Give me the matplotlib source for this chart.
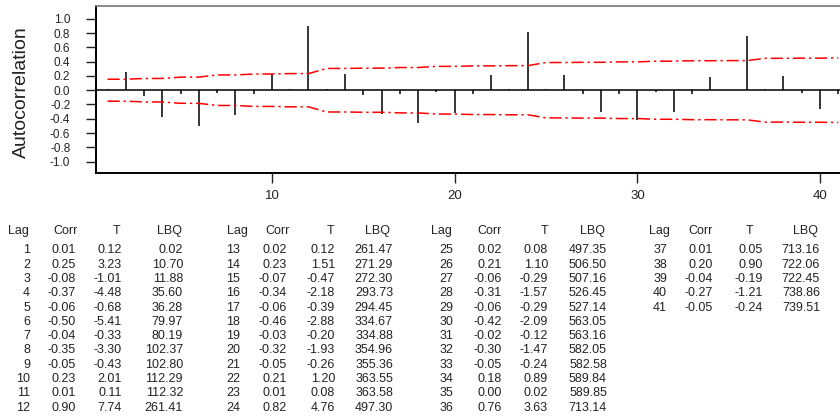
import numpy as np
import matplotlib
matplotlib.use('Agg')
import matplotlib.pyplot as plt

lags = list(range(1, 42))
corr = [0.01, 0.25, -0.08, -0.37, -0.06, -0.50, -0.04, -0.35, -0.05, 0.23, 0.01, 0.90,
        0.02, 0.23, -0.07, -0.34, -0.06, -0.46, -0.03, -0.32, -0.05, 0.21, 0.01, 0.82,
        0.02, 0.21, -0.06, -0.31, -0.06, -0.42, -0.02, -0.30, -0.05, 0.18, 0.00, 0.76,
        0.01, 0.20, -0.04, -0.27, -0.05]
tstat = [0.12, 3.23, -1.01, -4.48, -0.68, -5.41, -0.33, -3.30, -0.43, 2.01, 0.11, 7.74,
         0.12, 1.51, -0.47, -2.18, -0.39, -2.88, -0.20, -1.93, -0.26, 1.20, 0.08, 4.76,
         0.08, 1.10, -0.29, -1.57, -0.29, -2.09, -0.12, -1.47, -0.24, 0.89, 0.02, 3.63,
         0.05, 0.90, -0.19, -1.21, -0.24]
lbq = [0.02, 10.70, 11.88, 35.60, 36.28, 79.97, 80.19, 102.37, 102.80, 112.29, 112.32, 261.41,
       261.47, 271.29, 272.30, 293.73, 294.45, 334.67, 334.88, 354.96, 355.36, 363.55, 363.58, 497.30,
       497.35, 506.50, 507.16, 526.45, 527.14, 563.05, 563.16, 582.05, 582.58, 589.84, 589.85, 713.14,
       713.16, 722.06, 722.45, 738.86, 739.51]
# upper significance limit at each lag (lower limit is the negative)
limit = [0.154, 0.154, 0.164, 0.165, 0.183, 0.184, 0.214, 0.214, 0.227, 0.227, 0.233, 0.233,
         0.305, 0.305, 0.309, 0.309, 0.318, 0.318, 0.334, 0.334, 0.341, 0.341, 0.344, 0.344,
         0.388, 0.388, 0.391, 0.391, 0.397, 0.397, 0.407, 0.407, 0.413, 0.413, 0.415, 0.415,
         0.447, 0.447, 0.449, 0.449, 0.453]
ytick_vals = [-1.0, -0.8, -0.6, -0.4, -0.2, 0.0, 0.2, 0.4, 0.6, 0.8, 1.0]
xtick_vals = [10, 20, 30, 40]
headers = ['Lag', 'Corr', 'T', 'LBQ']

W, H = 840, 419
FONT = 'Liberation Sans'

fig = plt.figure(figsize=(W / 100, H / 100), dpi=100)
ax = fig.add_axes([96 / W, 1 - 173 / H, 754 / W, 167 / H])

ax.vlines(lags, 0, corr, color='black', lw=1.1)
ax.axhline(0, color='black', lw=1.1)
dash = (0, (8, 2.5, 1.5, 2.5))
ax.plot(lags, limit, color='red', lw=1.1, ls=dash)
ax.plot(lags, [-v for v in limit], color='red', lw=1.1, ls=dash)

ax.set_xlim(0.37, 41.64)
ax.set_ylim(-1.16, 1.18)
ax.set_yticks(ytick_vals)
ax.set_yticklabels([f'{v:.1f}' for v in ytick_vals], fontfamily=FONT, fontsize=8.5)
ax.set_xticks(xtick_vals)
ax.set_xticklabels([str(v) for v in xtick_vals], fontfamily=FONT, fontsize=9.5)
ax.tick_params(axis='y', direction='out', length=7.5, width=1, pad=11, colors='#222222')
ax.tick_params(axis='x', direction='out', length=7.5, width=1, pad=5, colors='#222222')

ax.set_ylabel('Autocorrelation', fontfamily=FONT, fontsize=14, color='#222222')
ax.yaxis.set_label_coords(-0.087, 0.485)

for s in ['left', 'bottom']:
    ax.spines[s].set_linewidth(1.4)
    ax.spines[s].set_color('black')
ax.spines['top'].set_linewidth(1.2)
ax.spines['top'].set_color('#777777')
ax.spines['right'].set_visible(False)

# table of values under the plot
lag_r = [30, 240, 453, 667]
corr_r = [76, 287, 502, 713]
t_r = [122, 335, 548, 763]
lbq_r = [183, 393, 607, 820]
hdr_lag_r = [29, 248, 452, 670]
hdr_corr_r = [78, 290, 502, 713]
hdr_t_c = [116.5, 330.5, 544.5, 749.5]
hdr_lbq_r = [182, 390, 605, 818]


def put(x, y, s, ha):
    fig.text(x / W, 1 - (y + 4.3) / H, s, ha=ha, va='baseline',
             fontfamily=FONT, fontsize=9, color='#222222')


for b in range(4):
    put(hdr_lag_r[b], 229.5, headers[0], 'right')
    put(hdr_corr_r[b], 229.5, headers[1], 'right')
    put(hdr_t_c[b], 229.5, headers[2], 'center')
    put(hdr_lbq_r[b], 229.5, headers[3], 'right')
    for i in range(12):
        k = b * 12 + i
        if k >= len(lags):
            break
        y = 249 + 14.3 * i
        put(lag_r[b], y, str(lags[k]), 'right')
        put(corr_r[b], y, f'{corr[k]:.2f}', 'right')
        put(t_r[b], y, f'{tstat[k]:.2f}', 'right')
        put(lbq_r[b], y, f'{lbq[k]:.2f}', 'right')

fig.savefig('out.png', dpi=100)
